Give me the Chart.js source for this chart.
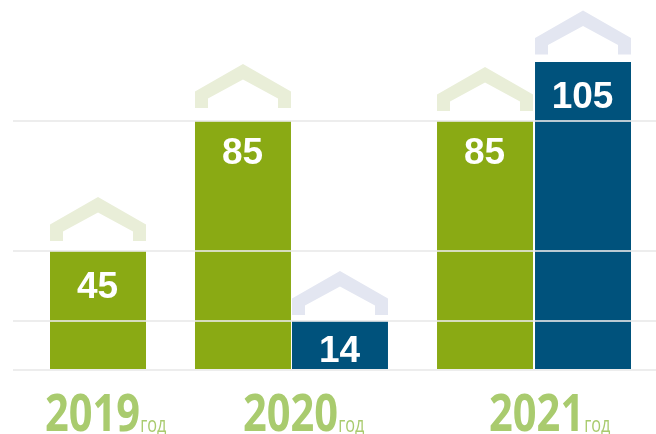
<!DOCTYPE html>
<html>
<head>
<meta charset="utf-8">
<style>html,body{margin:0;padding:0;background:#fff}canvas{display:block}</style>
<script src="https://cdn.jsdelivr.net/npm/chart.js@4/dist/chart.umd.js"></script>
</head>
<body>
<canvas id="c" width="656" height="434"></canvas>
<script>
const categories = ['2019', '2020', '2021'];
const greenValues = [45, 85, 85];
const blueValues = [null, 14, 105];
const gridValues = [0, 14, 45, 85];
const unitLabel = 'год';

const GREEN = '#8aaa14', BLUE = '#00527c';
const GREEN_ROOF = '#e9eed8', BLUE_ROOF = '#e3e6f1';
const YEAR = '#a9cb6e';

// Non-linear value axis of the original, as in the picture
class SteppedValueScale extends Chart.LinearScale {
  static id = 'steppedValue';
  static defaults = Chart.LinearScale.defaults;
  getPixelForValue(value) {
    const { knots, stops } = this.options;
    let i = 0;
    while (i < knots.length - 2 && value > knots[i + 1]) i++;
    const t = (value - knots[i]) / (knots[i + 1] - knots[i]);
    return this.getPixelForDecimal(stops[i] + t * (stops[i + 1] - stops[i]));
  }
}
// Unevenly spaced category axis
class PlacedCategoryScale extends Chart.CategoryScale {
  static id = 'placedCategory';
  static defaults = Chart.CategoryScale.defaults;
  getPixelForValue(value) {
    const v = typeof value === 'number' ? value : this.parse(value);
    return this.getPixelForDecimal(this.options.places[v]);
  }
}
Chart.register(SteppedValueScale, PlacedCategoryScale);

const roofs = {
  id: 'roofs',
  afterDatasetsDraw(chart) {
    const ctx = chart.ctx;
    chart.data.datasets.forEach((ds, d) => {
      chart.getDatasetMeta(d).data.forEach((bar, i) => {
        if (ds.data[i] == null) return;
        const x = bar.x + ds.roofShift[i], base = Math.round(bar.y) - ds.roofGap[i], half = 48, leg = 13;
        ctx.fillStyle = ds.roofColor;
        ctx.beginPath();
        ctx.moveTo(x - half, base);
        ctx.lineTo(x - half, base - 16.5);
        ctx.lineTo(x, base - 44);
        ctx.lineTo(x + half, base - 16.5);
        ctx.lineTo(x + half, base);
        ctx.lineTo(x + half - leg, base);
        ctx.lineTo(x + half - leg, base - 9.5);
        ctx.lineTo(x, base - 28.5);
        ctx.lineTo(x - half + leg, base - 9.5);
        ctx.lineTo(x - half + leg, base);
        ctx.closePath();
        ctx.fill();
      });
    });
  }
};

const valueLabels = {
  id: 'valueLabels',
  afterDraw(chart) {
    const ctx = chart.ctx;
    ctx.save();
    ctx.fillStyle = '#fff';
    ctx.font = 'bold 37px "Liberation Sans"';
    ctx.textAlign = 'center';
    ctx.textBaseline = 'alphabetic';
    chart.data.datasets.forEach((ds, d) => {
      chart.getDatasetMeta(d).data.forEach((bar, i) => {
        if (ds.data[i] == null) return;
        ctx.fillText(String(ds.data[i]), bar.x + ds.roofShift[i] - 0.5, bar.y + ds.labelDrop[i]);
      });
    });
    ctx.restore();
  }
};

const yearLabels = {
  id: 'yearLabels',
  afterDraw(chart, args, opts) {
    const ctx = chart.ctx;
    const x = chart.scales.x;
    ctx.save();
    ctx.fillStyle = YEAR;
    ctx.textBaseline = 'alphabetic';
    ctx.textAlign = 'left';
    categories.forEach((c, i) => {
      const left = x.getPixelForValue(i) + opts.shift[i];
      ctx.save();
      ctx.translate(left, 431);
      ctx.scale(0.8, 1);
      ctx.font = 'bold 52px "Open Sans"';
      ctx.fillText(c, 0, 0);
      const w = ctx.measureText(c).width * 0.8;
      ctx.restore();
      ctx.save();
      ctx.translate(left + w, 432);
      ctx.scale(0.74, 1);
      ctx.font = '22px "Open Sans"';
      ctx.fillText(unitLabel, 0, 0);
      ctx.restore();
    });
    ctx.restore();
  }
};

const barEdges = [
  [{ left: .5, right: .5, top: 0, bottom: 0 }, { left: .5, right: .5, top: 0, bottom: 0 }, { left: 0, right: 1, top: 0, bottom: 0 }],
  [{ left: 0, right: 0, top: 0, bottom: 0 }, { left: .5, right: .5, top: 0, bottom: 0 }, { left: 1, right: 0, top: 0, bottom: 0 }]
];

new Chart(document.getElementById('c'), {
  type: 'bar',
  data: {
    labels: categories,
    datasets: [
      { data: greenValues, backgroundColor: GREEN, roofColor: GREEN_ROOF, labelDrop: [47, 43, 43], roofGap: [10, 13, 10], roofShift: [0, 0, -.5], skipNull: true, barThickness: 97, borderColor: '#fff', borderWidth: c => barEdges[0][c.dataIndex], inflateAmount: 0 },
      { data: blueValues, backgroundColor: BLUE, roofColor: BLUE_ROOF, labelDrop: [0, 41, 46], roofGap: [0, 6, 7.5], roofShift: [0, 0, .5], skipNull: true, barThickness: 97, borderColor: '#fff', borderWidth: c => barEdges[1][c.dataIndex], inflateAmount: 0 }
    ]
  },
  options: {
    responsive: false,
    animation: false,
    layout: { padding: { left: 13, right: 0, top: 0, bottom: 64 } },
    plugins: { legend: { display: false }, tooltip: { enabled: false }, title: { display: false }, yearLabels: { shift: [-53, -48.5, -45] } },
    scales: {
      x: {
        type: 'placedCategory',
        places: [0.1322, 0.4331, 0.8103],
        display: true,
        grid: { display: false, drawTicks: false },
        border: { display: false },
        ticks: { display: false }
      },
      y: {
        type: 'steppedValue',
        min: 0,
        max: 105,
        knots: [0, 14, 45, 85, 105],
        stops: [0, 0.1324, 0.3216, 0.673, 0.8324],
        afterBuildTicks(scale) { scale.ticks = gridValues.map(v => ({ value: v })); },
        grid: { color: 'rgba(232,232,232,0.8)', lineWidth: 2, z: 1, drawTicks: false },
        border: { display: false },
        ticks: { display: false }
      }
    }
  },
  plugins: [roofs, valueLabels, yearLabels]
});
</script>
</body>
</html>
